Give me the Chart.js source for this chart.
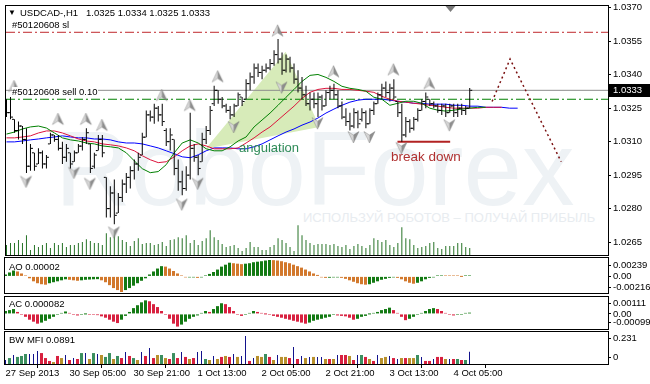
<!DOCTYPE html>
<html><head><meta charset="utf-8">
<script src="https://cdn.jsdelivr.net/npm/chart.js@4/dist/chart.umd.min.js"></script>
<style>
html,body{margin:0;padding:0;background:#fff;}
#wrap{position:relative;width:650px;height:384px;overflow:hidden;background:#fff;font-family:"Liberation Sans",Arial,sans-serif;}
canvas{position:absolute;left:0;top:0;}
.t{position:absolute;white-space:pre;font-size:9.5px;line-height:11px;color:#000;}
.wm{position:absolute;white-space:pre;color:#eef2f5;}
</style></head><body>
<div id="wrap">
<div class="wm" style="left:55px;top:116px;font-size:105px;line-height:105px;">RoboForex</div>
<div class="wm" style="left:303px;top:210px;font-size:13px;line-height:16px;color:#e8ecf0;">ИСПОЛЬЗУЙ РОБОТОВ – ПОЛУЧАЙ ПРИБЫЛЬ</div>
<canvas id="cMain" width="650" height="384"></canvas>
<canvas id="cAO" width="650" height="384"></canvas>
<canvas id="cAC" width="650" height="384"></canvas>
<canvas id="cMFI" width="650" height="384"></canvas>
<div class="t" style="left:8px;top:7px;font-size:8px;">▼</div>
<div class="t" style="left:20px;top:7px;">USDCAD-,H1   1.0325 1.0334 1.0325 1.0333</div>
<div class="t" style="left:12px;top:19px;">#50120608 sl</div>
<div class="t" style="left:12px;top:87px;line-height:10px;background:#fff;">#50120608 sell 0.10</div>
<div class="t" style="left:239px;top:140px;font-size:13px;line-height:16px;color:#2e8b57;">angulation</div>
<div class="t" style="left:391px;top:149px;font-size:13.5px;line-height:16px;color:#b03030;">break down</div>
<div class="t" style="left:9px;top:261px;">AO 0.00002</div>
<div class="t" style="left:9px;top:298px;">AC 0.000082</div>
<div class="t" style="left:9px;top:334px;">BW MFI 0.0891</div>
</div>
<script>
// ---------------- DATA ----------------
const timeLabels = ['27 Sep 2013','30 Sep 05:00','30 Sep 21:00','1 Oct 13:00','2 Oct 05:00','2 Oct 21:00','3 Oct 13:00','4 Oct 05:00'];
const timeLabelIdx = [0,16,32,48,64,80,96,112];

const openP = [1.0327,1.0323,1.0320,1.0315,1.0317,1.0311,1.0299,1.0305,1.0300,1.0305,
1.0300,1.0309,1.0313,1.0311,1.0307,1.0303,1.0305,1.0301,1.0305,1.0308,
1.0311,1.0309,1.0299,1.0306,1.0311,1.0294,1.0280,1.0287,1.0278,1.0285,
1.0291,1.0294,1.0297,1.0300,1.0304,1.0312,1.0322,1.0321,1.0325,1.0322,
1.0315,1.0310,1.0311,1.0298,1.0292,1.0289,1.0295,1.0307,1.0303,1.0301,
1.0311,1.0315,1.0327,1.0333,1.0329,1.0326,1.0324,1.0322,1.0326,1.0330,
1.0329,1.0336,1.0339,1.0343,1.0341,1.0342,1.0343,1.0345,1.0349,1.0347,
1.0342,1.0347,1.0343,1.0338,1.0334,1.0331,1.0327,1.0329,1.0327,1.0330,
1.0326,1.0332,1.0333,1.0331,1.0326,1.0321,1.0319,1.0317,1.0323,1.0320,
1.0323,1.0318,1.0324,1.0327,1.0331,1.0334,1.0332,1.0334,1.0328,1.0323,
1.0313,1.0319,1.0316,1.0320,1.0324,1.0328,1.0329,1.0327,1.0326,1.0324,
1.0326,1.0323,1.0326,1.0323,1.0325,1.0324,1.0325];
const highP = [1.0329,1.0330,1.0320,1.0319,1.0317,1.0316,1.0309,1.0305,1.0307,1.0306,
1.0304,1.0314,1.0313,1.0313,1.0310,1.0309,1.0305,1.0306,1.0309,1.0312,
1.0316,1.0309,1.0305,1.0313,1.0313,1.0294,1.0290,1.0293,1.0287,1.0293,
1.0296,1.0299,1.0302,1.0305,1.0314,1.0324,1.0324,1.0327,1.0326,1.0327,
1.0316,1.0316,1.0311,1.0302,1.0297,1.0299,1.0323,1.0309,1.0304,1.0314,
1.0317,1.0326,1.0335,1.0333,1.0330,1.0327,1.0326,1.0327,1.0332,1.0330,
1.0338,1.0341,1.0345,1.0345,1.0344,1.0345,1.0347,1.0351,1.0356,1.0350,
1.0349,1.0348,1.0345,1.0342,1.0339,1.0335,1.0332,1.0332,1.0332,1.0331,
1.0333,1.0335,1.0336,1.0333,1.0328,1.0325,1.0323,1.0325,1.0324,1.0325,
1.0324,1.0325,1.0328,1.0332,1.0336,1.0337,1.0336,1.0338,1.0328,1.0327,
1.0321,1.0320,1.0321,1.0325,1.0329,1.0332,1.0329,1.0328,1.0327,1.0327,
1.0327,1.0327,1.0327,1.0327,1.0327,1.0326,1.0334];
const lowP = [1.0321,1.0320,1.0314,1.0311,1.0309,1.0296,1.0297,1.0297,1.0300,1.0298,
1.0298,1.0309,1.0310,1.0306,1.0300,1.0301,1.0298,1.0301,1.0305,1.0306,
1.0309,1.0296,1.0298,1.0306,1.0303,1.0276,1.0276,1.0273,1.0278,1.0283,
1.0287,1.0289,1.0293,1.0297,1.0304,1.0312,1.0319,1.0318,1.0319,1.0317,
1.0308,1.0306,1.0295,1.0288,1.0286,1.0288,1.0293,1.0301,1.0295,1.0301,
1.0309,1.0313,1.0326,1.0327,1.0325,1.0323,1.0320,1.0321,1.0326,1.0326,
1.0329,1.0333,1.0336,1.0339,1.0338,1.0341,1.0342,1.0344,1.0345,1.0340,
1.0341,1.0341,1.0336,1.0332,1.0329,1.0326,1.0324,1.0325,1.0321,1.0324,
1.0326,1.0329,1.0329,1.0325,1.0320,1.0317,1.0315,1.0316,1.0316,1.0319,
1.0316,1.0318,1.0322,1.0327,1.0329,1.0330,1.0328,1.0329,1.0321,1.0310,
1.0312,1.0314,1.0315,1.0319,1.0324,1.0325,1.0326,1.0325,1.0323,1.0322,
1.0321,1.0323,1.0321,1.0321,1.0322,1.0322,1.0325];
const closeP = [1.0323,1.0321,1.0315,1.0317,1.0311,1.0299,1.0307,1.0299,1.0305,1.0300,
1.0303,1.0313,1.0311,1.0307,1.0303,1.0307,1.0300,1.0305,1.0308,1.0311,
1.0314,1.0298,1.0304,1.0311,1.0305,1.0280,1.0287,1.0277,1.0285,1.0291,
1.0294,1.0297,1.0300,1.0303,1.0312,1.0322,1.0321,1.0325,1.0322,1.0319,
1.0310,1.0313,1.0298,1.0292,1.0289,1.0295,1.0307,1.0303,1.0298,1.0311,
1.0315,1.0324,1.0333,1.0329,1.0326,1.0324,1.0322,1.0326,1.0331,1.0328,
1.0336,1.0339,1.0343,1.0341,1.0342,1.0343,1.0345,1.0349,1.0347,1.0342,
1.0347,1.0343,1.0338,1.0334,1.0331,1.0327,1.0329,1.0327,1.0330,1.0326,
1.0332,1.0333,1.0331,1.0326,1.0321,1.0319,1.0317,1.0323,1.0318,1.0323,
1.0318,1.0324,1.0327,1.0331,1.0334,1.0332,1.0334,1.0330,1.0323,1.0313,
1.0319,1.0316,1.0320,1.0324,1.0328,1.0330,1.0327,1.0326,1.0324,1.0326,
1.0323,1.0326,1.0323,1.0325,1.0324,1.0325,1.0333];
const volume = [1500,1800,1800,2250,1800,3000,750,1500,1200,1500,
1800,1050,1800,1500,1800,1200,1500,1500,1800,1950,
2400,2100,1800,1800,1500,3300,2700,3600,2850,2250,
1950,1350,2100,2550,1650,1800,1800,1500,1650,1950,
1350,2250,2400,2700,2550,3000,1800,2250,1500,2100,
2550,3750,2700,2250,1650,1200,1350,1500,1050,600,
1050,1950,1200,1200,750,750,1200,1500,2550,2250,
1800,1200,600,4500,3000,2250,1800,1500,1650,1650,
1650,1500,1650,1350,1200,1500,900,1350,1650,1350,
1050,1500,2550,2250,1950,2250,1500,1200,1800,4200,
2550,2400,1500,1050,1200,1350,1800,1950,1050,900,
1350,1350,1350,1800,1800,1200,1050];

// Alligator lines, one value every maStep bars starting at bar 0
const maStep = 2;
const jawBlue = [1.03099,1.03099,1.03103,1.03108,1.03112,1.03117,1.03121,1.03126,1.03121,1.03117,
1.03117,1.03112,1.03112,1.03108,1.03099,1.03094,1.03094,1.03090,1.03081,1.03072,
1.03059,1.03046,1.03032,1.03028,1.03041,1.03059,1.03072,1.03072,1.03072,1.03068,
1.03068,1.03077,1.03090,1.03108,1.03126,1.03143,1.03157,1.03174,1.03188,1.03206,
1.03228,1.03246,1.03263,1.03277,1.03286,1.03290,1.03290,1.03290,1.03286,1.03281,
1.03277,1.03272,1.03272,1.03268,1.03268,1.03268,1.03263,1.03263,1.03259,1.03259,
1.03254,1.03254,1.03254,1.03250,1.03250];
const teethRed = [1.03117,1.03117,1.03121,1.03126,1.03139,1.03148,1.03148,1.03139,1.03126,1.03112,
1.03103,1.03099,1.03090,1.03086,1.03081,1.03072,1.03059,1.03037,1.03019,1.03006,
1.03010,1.03032,1.03059,1.03081,1.03090,1.03081,1.03068,1.03068,1.03068,1.03072,
1.03094,1.03117,1.03143,1.03166,1.03197,1.03228,1.03259,1.03294,1.03321,1.03334,
1.03339,1.03339,1.03334,1.03334,1.03330,1.03326,1.03321,1.03303,1.03290,1.03281,
1.03277,1.03272,1.03268,1.03263,1.03259,1.03254,1.03250,1.03250,1.03250,1.03250,
1.03254,1.03254,1.03254];
const lipsGreen = [1.03134,1.03143,1.03157,1.03166,1.03170,1.03161,1.03139,1.03117,1.03108,1.03103,
1.03094,1.03090,1.03081,1.03077,1.03072,1.03050,1.03014,1.02979,1.02961,1.02966,
1.02997,1.03050,1.03094,1.03108,1.03094,1.03068,1.03059,1.03059,1.03077,1.03103,
1.03121,1.03166,1.03197,1.03228,1.03263,1.03299,1.03334,1.03370,1.03397,1.03401,
1.03388,1.03370,1.03348,1.03339,1.03334,1.03326,1.03299,1.03290,1.03263,1.03272,
1.03281,1.03281,1.03272,1.03250,1.03241,1.03237,1.03241,1.03246,1.03250,1.03254,
1.03254];

const upFracIdx = [1,12,19,23,38,45,52,67,81,96,105];
const upFracPrice = [1.03348,1.03201,1.03201,1.03174,1.03308,1.03263,1.03392,1.03597,1.03414,1.03423,1.03361];
const dnFracIdx = [4,16,20,26,43,47,56,68,77,86,90,98,110];
const dnFracPrice = [1.02921,1.02961,1.02912,1.02694,1.02819,1.02912,1.03166,1.03343,1.03183,1.03121,1.03121,1.03072,1.03174];

const slPrice = 1.0359, tpPrice = 1.0329, orderPrice = 1.0333, bidPrice = 1.0333;
const angulationIdx = [49.9,69.9,78.4,49.9];
const angulationPrice = [1.03068,1.03503,1.03166,1.03068];
const forecastIdx = [121.6,126.1,138.9];
const forecastPrice = [1.0328,1.0347,1.0301];
const breakIdx = [97.9,111.1];
const breakPrice = 1.0310;
const shiftIdx = 111;

const priceTicks = [1.0370,1.0355,1.0340,1.0325,1.0310,1.0295,1.0280,1.0265];

const aoValues = [0.00025,0.00051,0.00076,0.00064,0.00038,0.00013,-0.00025,-0.00064,-0.00089,-0.00102,
-0.00108,-0.00089,-0.00076,-0.00064,-0.00051,-0.00038,-0.00044,-0.00051,-0.00057,-0.00051,
-0.00044,-0.00041,-0.00038,-0.00036,-0.00051,-0.00076,-0.00114,-0.00152,-0.00178,-0.00203,
-0.00178,-0.00152,-0.00121,-0.00089,-0.00057,-0.00025,0.00025,0.00064,0.00102,0.00133,
0.00127,0.00102,0.00070,0.00038,0.00006,-0.00013,-0.00010,-0.00006,-0.00019,-0.00006,
0.00013,0.00032,0.00057,0.00089,0.00127,0.00152,0.00178,0.00171,0.00165,0.00159,
0.00165,0.00171,0.00184,0.00191,0.00197,0.00206,0.00213,0.00211,0.00206,0.00197,
0.00184,0.00171,0.00152,0.00133,0.00114,0.00089,0.00064,0.00038,0.00019,-0.00006,
-0.00019,-0.00017,-0.00013,-0.00010,-0.00019,-0.00032,-0.00051,-0.00070,-0.00089,-0.00102,
-0.00108,-0.00102,-0.00083,-0.00064,-0.00044,-0.00032,-0.00019,-0.00013,-0.00019,-0.00038,
-0.00064,-0.00083,-0.00095,-0.00083,-0.00064,-0.00038,-0.00019,-0.00006,0.00004,0.00008,
0.00006,0.00004,0.00003,0.00001,0,0.00001,0.00002];
const aoTicks = ['0.00239','0.00','-0.00216'];
const aoMax = 0.00239, aoMin = -0.00216;

const acValues = [0.00019,0.00025,0.00032,0.00013,-0.00006,-0.00019,-0.00038,-0.00051,-0.00064,-0.00057,
-0.00045,-0.00032,-0.00019,-0.00006,0.00006,0.00016,0.00006,-0.00003,-0.00010,-0.00006,
0,-0.00003,-0.00006,-0.00008,-0.00016,-0.00025,-0.00038,-0.00051,-0.00060,-0.00038,
-0.00013,0.00013,0.00038,0.00057,0.00076,0.00089,0.00083,0.00064,0.00045,0.00019,
-0.00006,-0.00032,-0.00064,-0.00083,-0.00070,-0.00051,-0.00032,-0.00019,-0.00010,0.00006,
0.00019,0.00013,0.00032,0.00051,0.00070,0.00064,0.00045,0.00019,-0.00006,-0.00013,
-0.00006,0.00006,0.00019,0.00013,0.00006,0,-0.00006,-0.00013,-0.00019,-0.00025,
-0.00032,-0.00038,-0.00045,-0.00051,-0.00057,-0.00064,-0.00057,-0.00045,-0.00038,-0.00032,
-0.00025,-0.00019,-0.00006,-0.00010,-0.00013,-0.00016,-0.00025,-0.00038,-0.00032,-0.00019,
-0.00013,0,0.00006,0.00013,0.00025,0.00032,0.00041,0.00025,0.00006,-0.00019,
-0.00041,-0.00032,-0.00019,-0.00006,0.00006,0.00019,0.00032,0.00038,0.00032,0.00019,
0.00006,-0.00006,-0.00010,-0.00006,-0.00003,0.00003,0.000082];
const acTicks = ['0.00111','0.00','-0.00099'];
const acMax = 0.00111, acMin = -0.00099;

const mfiValues = [0.029,0.043,0.065,0.051,0.058,0.072,0.072,0.072,0.094,0.079,
0.043,0.022,0.014,0.058,0.043,0.065,0.029,0.043,0.036,0.079,
0.079,0.036,0.079,0.072,0.065,0.051,0.079,0.036,0.058,0.043,
0.087,0.058,0.043,0.029,0.087,0.058,0.116,0.043,0.065,0.065,
0.043,0.036,0.079,0.043,0.087,0.051,0.036,0.043,0.087,0.094,
0.036,0.029,0.058,0.036,0.051,0.058,0.051,0.072,0.051,0.058,
0.202,0.022,0.043,0.058,0.051,0.072,0.051,0.029,0.065,0.051,
0.051,0.043,0.123,0.036,0.058,0.043,0.051,0.051,0.051,0.051,
0.036,0.036,0.036,0.065,0.065,0.065,0.058,0.029,0.065,0.065,
0.051,0.036,0.022,0.065,0.043,0.051,0.058,0.043,0.036,0.043,
0.043,0.043,0.043,0.065,0.051,0.022,0.022,0.036,0.051,0.051,
0.036,0.036,0.036,0.036,0.029,0.029,0.0891];
// g = green, f = fade, b = fake, s = squat
const mfiZone = ('bgbgggbbbs'+'ssfsfbsbsg'+'bfgbfggfgs'+'bsgfbsbsfg'+'fsgsbsfsbb'+'gfbfsfsbfb'+
 'bsbffgsfbf'+'fsbsbfbfbb'+'fsfbssfsbg'+'sfsbffbsbf'+'sffgbssbss'+'fbsgsgb').split('');
const mfiTicks = ['0.231','0'];
const mfiMax = 0.231, mfiMin = 0;

// ---------------- LAYOUT / STYLE ----------------
const xMin = -0.125, xMax = 150.625;
const FONT = '"Liberation Sans", Arial, sans-serif';
Chart.defaults.font.family = FONT;
Chart.defaults.font.size = 9.5;
Chart.defaults.color = '#000';

const frame = {id:'frame', afterDraw(c){const {ctx, chartArea:a} = c; ctx.save(); ctx.strokeStyle='#000'; ctx.lineWidth=1;
  ctx.strokeRect(a.left-0.5, a.top-0.5, a.right-a.left+1, a.bottom-a.top+1); ctx.restore();}};

function xScale(show){
  return {type:'linear', min:xMin, max:xMax, offset:false, display:show,
    afterBuildTicks: s => { s.ticks = timeLabelIdx.map(v => ({value:v})); },
    afterFit: s => { if (show) { s.height = 20; } else { s.height = 0; } s.paddingLeft = 0; s.paddingRight = 0; },
    ticks:{autoSkip:false, maxRotation:0, minRotation:0, align:'start', padding:0, callback:(v,i)=>timeLabels[i]},
    grid:{drawOnChartArea:false, drawTicks:true, tickLength:4, color:'#000'},
    border:{display:false}};
}
function yScale(min, max, vals, labels){
  return {type:'linear', position:'right', min, max,
    afterFit: s => { s.width = 42; s.paddingTop = 0; s.paddingBottom = 0; },
    afterBuildTicks: s => { s.ticks = vals.map(v => ({value:v})); },
    ticks:{autoSkip:false, padding:2, callback:(v,i)=>labels[i]},
    grid:{drawOnChartArea:false, drawTicks:true, tickLength:3, color:'#000'},
    border:{display:false}};
}
const baseOpts = {responsive:false, animation:false, devicePixelRatio:1, events:[],
  plugins:{legend:{display:false}, tooltip:{enabled:false}}};

function makeArrow(up){
  const c = document.createElement('canvas'); c.width = 22; c.height = 14;
  const g = c.getContext('2d'); const cx = 14.5;
  g.save();
  if(!up){ g.translate(0,14); g.scale(1,-1); }
  g.beginPath(); g.moveTo(cx,1); g.lineTo(cx-5.5,12.5); g.lineTo(cx,9); g.closePath(); g.fillStyle='#d6d6d6'; g.fill();
  g.beginPath(); g.moveTo(cx,1); g.lineTo(cx+5.5,12.5); g.lineTo(cx,9); g.closePath(); g.fillStyle='#8e8e8e'; g.fill();
  g.strokeStyle='rgba(110,110,110,0.6)'; g.lineWidth=0.6;
  g.beginPath(); g.moveTo(cx,1); g.lineTo(cx-5.5,12.5); g.lineTo(cx,9); g.lineTo(cx+5.5,12.5); g.closePath(); g.stroke();
  g.restore();
  return c;
}
const upArrow = makeArrow(true), dnArrow = makeArrow(false);

// ---------------- MAIN CHART ----------------
const idx = highP.map((_, i) => i);
const volMax = 251 * 150;
const pMax = 1.037078, pMin = 1.025922;

const mainExtras = {id:'mainExtras', afterDraw(c){
  const {ctx, chartArea:a, scales} = c;
  const y = Math.round(scales.y.getPixelForValue(bidPrice));
  ctx.save();
  ctx.fillStyle = '#000'; ctx.fillRect(a.right+1, y-6, 650-a.right-1, 13);
  ctx.fillStyle = '#fff'; ctx.font = '9.5px ' + FONT; ctx.textBaseline = 'middle'; ctx.textAlign='left';
  ctx.fillText(bidPrice.toFixed(4), a.right+5, y+0.5);
  const sx = Math.round(scales.x.getPixelForValue(shiftIdx)) + 0.5;
  ctx.fillStyle = '#7a7a7a'; ctx.beginPath(); ctx.moveTo(sx-5, a.top); ctx.lineTo(sx+5, a.top); ctx.lineTo(sx, a.top+6); ctx.closePath(); ctx.fill();
  ctx.restore();
}};

const lineDs = (data, color, order, extra) => Object.assign({type:'line', data, borderColor:color, borderWidth:1,
  pointRadius:0, tension:0, fill:false, order, yAxisID:'y'}, extra || {});

new Chart(document.getElementById('cMain'), {
  type:'bar',
  data:{datasets:[
    lineDs(angulationIdx.map((x,k)=>({x, y:angulationPrice[k]})), 'rgba(0,0,0,0)', 100, {fill:'shape', backgroundColor:'#d7ebb9', borderWidth:0}),
    {type:'bar', yAxisID:'yVol', data: idx.map(i => ({x:i, y:volume[i]})), backgroundColor:'#267326', barThickness:1, grouped:false, inflateAmount:0, order:95},
    lineDs([{x:xMin,y:slPrice},{x:xMax,y:slPrice}], '#c0282d', 90, {borderDash:[9,3,2,3]}),
    lineDs([{x:xMin,y:tpPrice},{x:xMax,y:tpPrice}], '#008000', 90, {borderDash:[9,3,2,3]}),
    lineDs([{x:xMin,y:orderPrice},{x:xMax,y:orderPrice}], '#8c8c8c', 90),
    lineDs(jawBlue.map((v,k)=>({x:k*maStep, y:v})), '#0000ff', 80),
    lineDs(teethRed.map((v,k)=>({x:k*maStep, y:v})), '#dc143c', 79),
    lineDs(lipsGreen.map((v,k)=>({x:k*maStep, y:v})), '#008000', 78),
    lineDs(forecastIdx.map((x,k)=>({x, y:forecastPrice[k]})), '#7a1010', 70, {borderDash:[2,3], borderWidth:1.5}),
    lineDs(breakIdx.map(x=>({x, y:breakPrice})), '#b22222', 70, {borderWidth:2}),
    {type:'line', showLine:false, data: upFracIdx.map((x,k)=>({x, y:upFracPrice[k]})), pointStyle:upArrow, pointRadius:5, order:60, yAxisID:'y'},
    {type:'line', showLine:false, data: dnFracIdx.map((x,k)=>({x, y:dnFracPrice[k]})), pointStyle:dnArrow, pointRadius:5, order:60, yAxisID:'y'},
    {type:'bar', yAxisID:'y', data: idx.map(i => ({x:i, y:[lowP[i], highP[i]]})), backgroundColor:'#000', barThickness:1, grouped:false, inflateAmount:0, order:10},
    {type:'line', showLine:false, yAxisID:'y', data: idx.map(i => ({x:i-0.375, y:openP[i]})), pointStyle:'line', pointRadius:1, pointBorderWidth:1, borderColor:'#000', order:5},
    {type:'line', showLine:false, yAxisID:'y', data: idx.map(i => ({x:i+0.375, y:closeP[i]})), pointStyle:'line', pointRadius:1, pointBorderWidth:1, borderColor:'#000', order:5}
  ]},
  options: Object.assign({}, baseOpts, {
    layout:{padding:{left:5, top:4, right:0, bottom:129}},
    scales:{ x: xScale(false), y: yScale(pMin, pMax, priceTicks, priceTicks.map(v=>v.toFixed(4))),
             yVol:{type:'linear', display:false, min:0, max:volMax} }
  }),
  plugins:[frame, mainExtras]
});

// ---------------- SUB PANES ----------------
function insetTicks(max, min, h, topIn, botIn, withZero){
  const u = (max - min) / h; const t = [max - topIn*u];
  if (withZero) t.push(0);
  t.push(min + botIn*u);
  return t;
}
function colorsUpDown(vals, up, down){
  let prev = up;
  return vals.map((v,i) => { if (i === 0 || v > vals[i-1]) prev = up; else if (v < vals[i-1]) prev = down; return prev; });
}

new Chart(document.getElementById('cAO'), {
  type:'bar',
  data:{datasets:[{data: aoValues.map((v,i)=>({x:i, y:v})), backgroundColor: colorsUpDown(aoValues, '#137a13', '#d2782c'),
    barThickness:3, minBarLength:1, grouped:false, inflateAmount:0}]},
  options: Object.assign({}, baseOpts, {
    layout:{padding:{left:5, top:258, right:0, bottom:91}},
    scales:{ x: xScale(false), y: yScale(aoMin, aoMax, insetTicks(aoMax, aoMin, 35, 7, 5.3, true), aoTicks) }
  }),
  plugins:[frame]
});

new Chart(document.getElementById('cAC'), {
  type:'bar',
  data:{datasets:[{data: acValues.map((v,i)=>({x:i, y:v})), backgroundColor: colorsUpDown(acValues, '#137a13', '#d8203f'),
    barThickness:3, minBarLength:1, grouped:false, inflateAmount:0}]},
  options: Object.assign({}, baseOpts, {
    layout:{padding:{left:5, top:297, right:0, bottom:55}},
    scales:{ x: xScale(false), y: yScale(acMin, acMax, insetTicks(acMax, acMin, 32, 6, 7, true), acTicks) }
  }),
  plugins:[frame]
});

const mfiColors = {g:'#3b8f5f', f:'#b8902c', b:'#12128c', s:'#d8203f'};
new Chart(document.getElementById('cMFI'), {
  type:'bar',
  data:{datasets: ['g','f','s','b'].map(z => ({
    data: mfiValues.map((v,i)=>({x:i, y:v})).filter((p,i)=>mfiZone[i]===z),
    backgroundColor: mfiColors[z], barThickness: z==='b'?1:3, grouped:false, inflateAmount:0}))},
  options: Object.assign({}, baseOpts, {
    layout:{padding:{left:5, top:332, right:0, bottom:0}},
    scales:{ x: xScale(true), y: yScale(mfiMin, mfiMax, insetTicks(mfiMax, mfiMin, 32, 6, 7, false), mfiTicks) }
  }),
  plugins:[frame]
});
</script>
</body></html>
